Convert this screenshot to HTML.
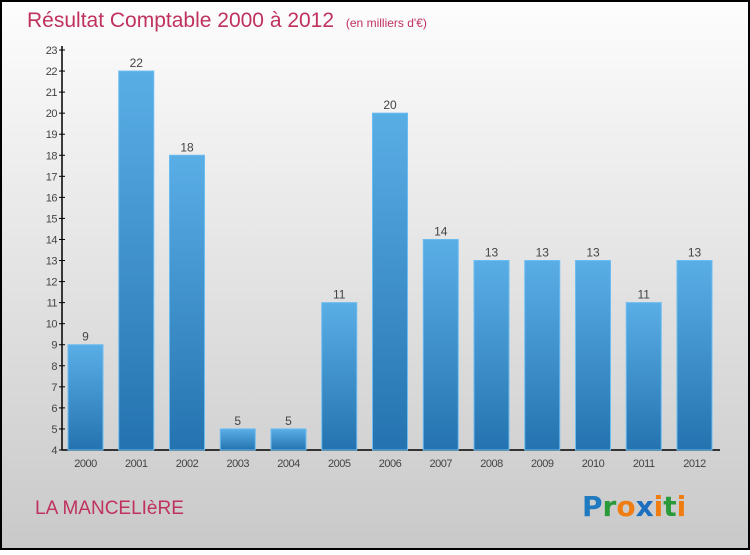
<!DOCTYPE html>
<html><head><meta charset="utf-8"><style>
body{margin:0;width:750px;height:550px;overflow:hidden;font-family:"Liberation Sans",sans-serif}
</style></head><body>
<svg width="750" height="550" xmlns="http://www.w3.org/2000/svg">
<defs>
<linearGradient id="bg" x1="0" y1="0" x2="0" y2="1"><stop offset="0" stop-color="#fdfdfd"/><stop offset="1" stop-color="#c9c9c9"/></linearGradient>
<linearGradient id="bar" x1="0" y1="0" x2="0" y2="1"><stop offset="0" stop-color="#5aaee6"/><stop offset="1" stop-color="#2473b0"/></linearGradient>
</defs>
<rect x="1" y="1" width="748" height="548" fill="url(#bg)" stroke="#000" stroke-width="2"/>
<text x="27" y="27" font-size="21" fill="#c0325e">Résultat Comptable 2000 à 2012 <tspan font-size="12" dx="6">(en milliers d'€)</tspan></text>
<g id="axes"></g>
<g id="bars"></g>
<text x="35" y="514" font-size="19" fill="#c0325e">LA MANCELIèRE</text>
<text x="582" y="516" font-size="28" font-weight="bold" font-family="'DejaVu Sans',sans-serif"><tspan fill="#1f7ac0">P</tspan><tspan fill="#2a9a3a">r</tspan><tspan fill="#f07d12">o</tspan><tspan fill="#1f6fc0">x</tspan><tspan fill="#f07d12">i</tspan><tspan fill="#2a9a3a">t</tspan><tspan fill="#f07d12">i</tspan></text>
</svg>
<script>
const years=["2000","2001","2002","2003","2004","2005","2006","2007","2008","2009","2010","2011","2012"];
const values=[9,22,18,5,5,11,20,14,13,13,13,11,13];
const yTicks=[4,5,6,7,8,9,10,11,12,13,14,15,16,17,18,19,20,21,22,23];
const NS="http://www.w3.org/2000/svg";
const yMin=4,yMax=23,y0=450,y1=50;
const y=v=>y0-(v-yMin)*(y0-y1)/(yMax-yMin);
const x=i=>68+i*50.75;
const bw=35;
function mk(t,a,p){const e=document.createElementNS(NS,t);for(const k in a)e.setAttribute(k,a[k]);p.appendChild(e);return e;}
const ax=document.getElementById('axes'),bg=document.getElementById('bars');
const yl=mk('line',{x1:62,y1:y1-4,x2:62,y2:y0,stroke:'#000','stroke-width':1.5},ax);


const xl=mk('line',{x1:62,y1:y0,x2:720,y2:y0,stroke:'#000','stroke-width':1.5},ax);


yTicks.forEach(v=>{
 mk('line',{x1:59,x2:65,y1:y(v),y2:y(v),stroke:'#000'},ax);
 const t=mk('text',{x:57,y:y(v)+4,'text-anchor':'end','font-size':11,fill:'#444','letter-spacing':'-0.5'},ax);
 t.textContent=v;
 
 
});
years.forEach((yr,i)=>{
 const v=values[i];
 const r=mk('rect',{x:x(i),y:y(v),width:bw,height:y0-y(v),fill:'url(#bar)',stroke:'#6bbcf0','stroke-width':1},bg);
 
 
 const l=mk('text',{x:x(i)+bw/2,y:y(v)-4,'text-anchor':'middle','font-size':12,fill:'#444'},bg);
 l.textContent=v;
 
 
 const xt=mk('text',{x:x(i)+bw/2,y:467,'text-anchor':'middle','font-size':11,fill:'#444','letter-spacing':'-0.5'},bg);
 xt.textContent=yr;
 
 
});
</script>
</body></html>
